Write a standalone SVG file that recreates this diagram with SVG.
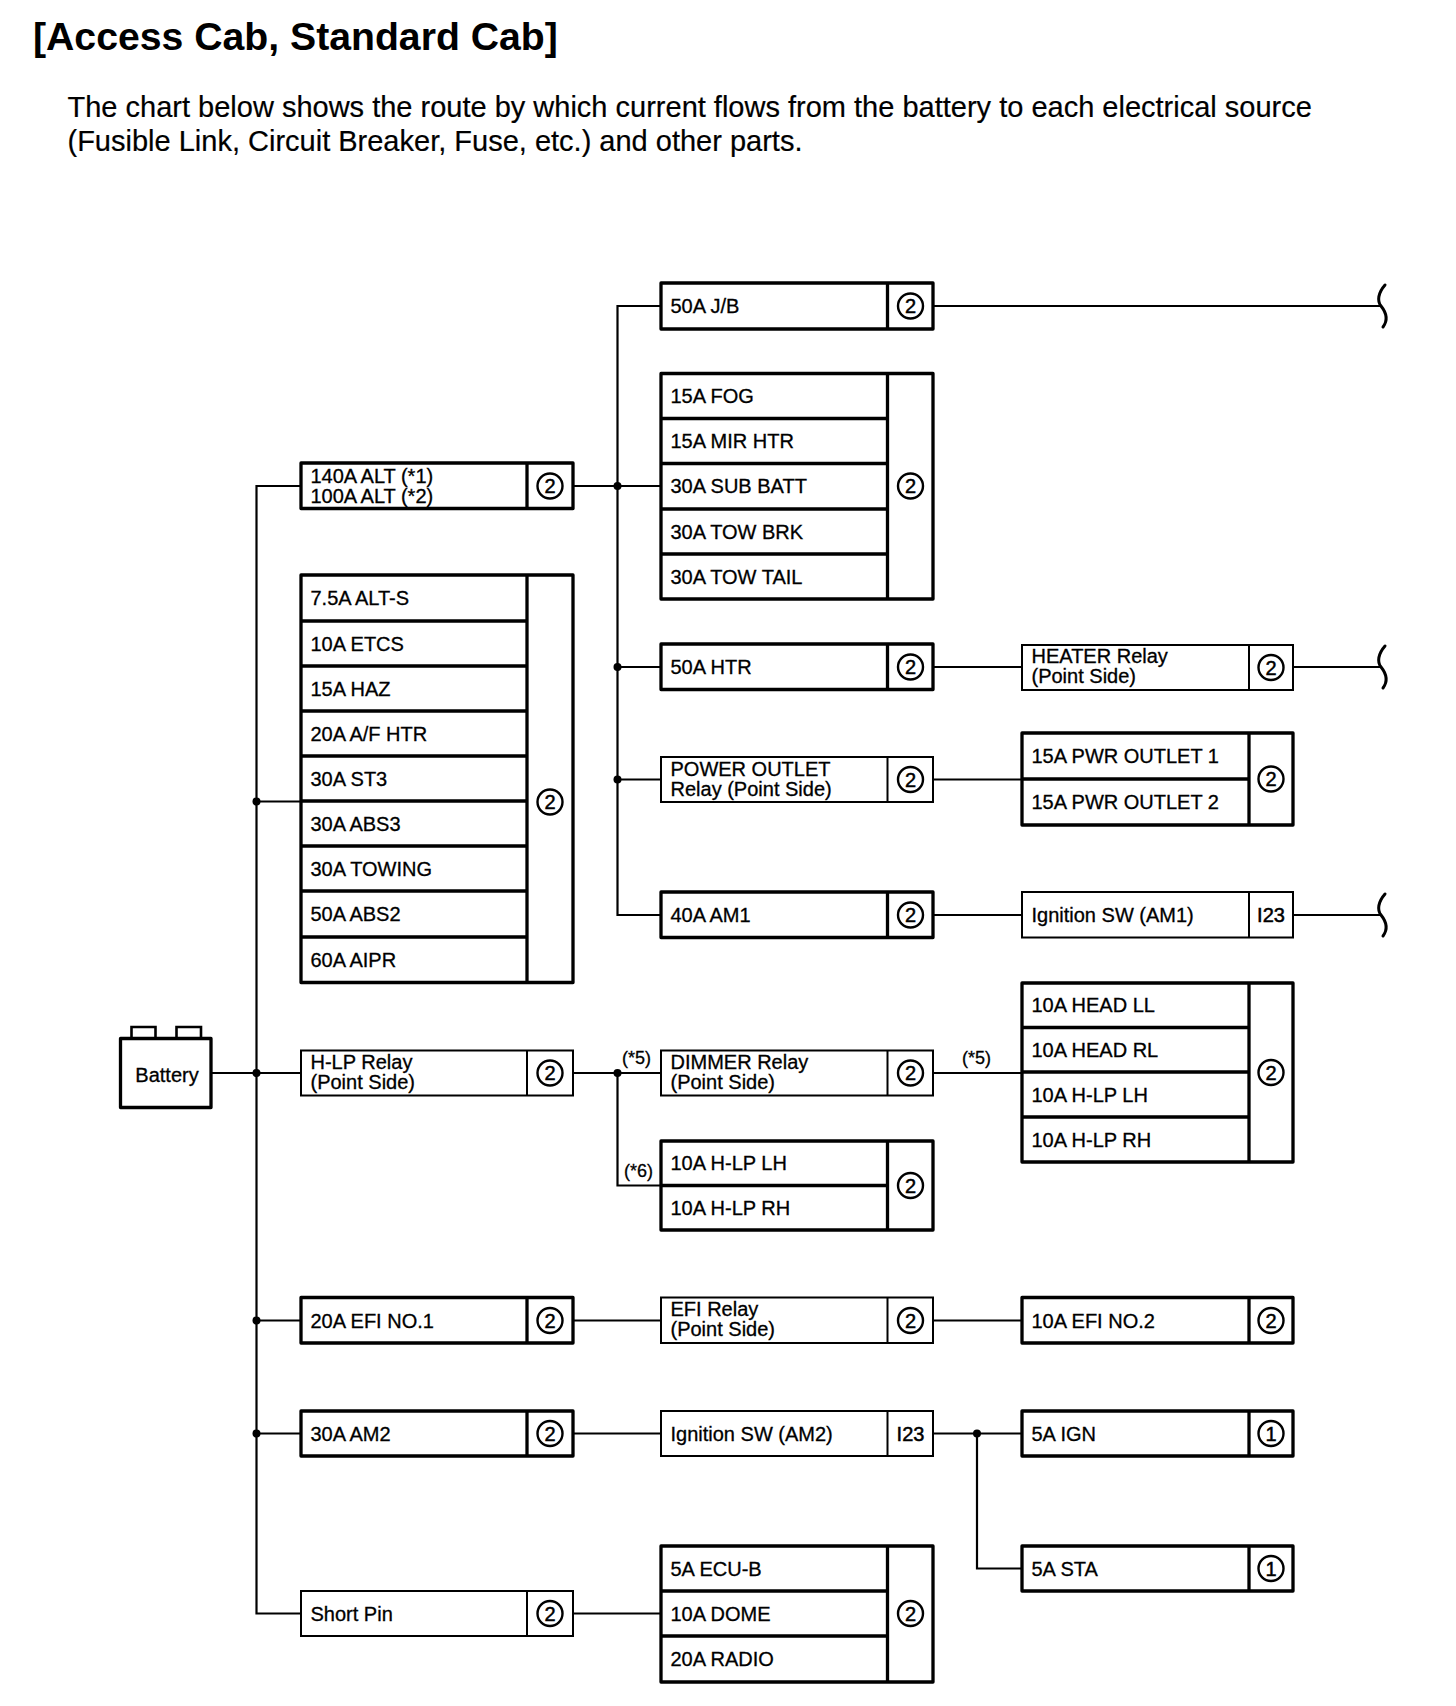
<svg xmlns="http://www.w3.org/2000/svg" width="1456" height="1706" viewBox="0 0 1456 1706">
<style>
 .bx{fill:#fff;stroke:#000;stroke-width:3.3;stroke-linejoin:round}
 .bt{fill:#fff;stroke:#000;stroke-width:2}
 .dv{stroke:#000;stroke-width:3.3}
 .dt{stroke:#000;stroke-width:2}
 .w{fill:none;stroke:#000;stroke-width:2.2}
 .brk{fill:none;stroke:#000;stroke-width:3;stroke-linecap:round}
 .c{fill:none;stroke:#000;stroke-width:2.4}
 .dot{fill:#000}
 text{font-family:"Liberation Sans",Arial,Helvetica,sans-serif;fill:#000}
 .t{font-size:20px;stroke:#000;stroke-width:0.3}
 .n{font-size:20px;text-anchor:middle;stroke:#000;stroke-width:0.5}
 .s{font-size:18px;stroke:#000;stroke-width:0.3}
 .title{font-size:39.2px;font-weight:bold}
 .sub{font-size:29px;stroke:#000;stroke-width:0.2}
</style>

<g id="header">
 <text class="title" x="33" y="50">[Access Cab, Standard Cab]</text>
 <text class="sub" x="67.5" y="117">The chart below shows the route by which current flows from the battery to each electrical source</text>
 <text class="sub" x="67.5" y="151">(Fusible Link, Circuit Breaker, Fuse, etc.) and other parts.</text>
</g>

<g id="connectors">
 <path class="w" d="M301,486 H256.5 V1613.5 H301"/>
 <path class="w" d="M211,1073 H301"/>
 <path class="w" d="M256.5,801.5 H301"/>
 <path class="w" d="M256.5,1320.5 H301"/>
 <path class="w" d="M256.5,1433.5 H301"/>
 <path class="w" d="M661,306 H617.5 V915 H661"/>
 <path class="w" d="M573,486 H661"/>
 <path class="w" d="M617.5,667 H661"/>
 <path class="w" d="M617.5,779.5 H661"/>
 <path class="w" d="M933,306 H1381"/>
 <path class="w" d="M933,667 H1022"/>
 <path class="w" d="M1293,667 H1381"/>
 <path class="w" d="M933,779.5 H1022"/>
 <path class="w" d="M933,915 H1022"/>
 <path class="w" d="M1293,915 H1381"/>
 <path class="w" d="M573,1073 H661"/>
 <path class="w" d="M617.5,1073 V1185.5 H661"/>
 <path class="w" d="M933,1073 H1022"/>
 <path class="w" d="M573,1320.5 H661"/>
 <path class="w" d="M933,1320.5 H1022"/>
 <path class="w" d="M573,1433.5 H661"/>
 <path class="w" d="M933,1433.5 H1022"/>
 <path class="w" d="M977,1433.5 V1568.5 H1022"/>
 <path class="w" d="M573,1613.5 H661"/>
 <path class="brk" d="M1385,285 C1378,293 1377,301 1381,306 C1385,311 1389,319 1383,327"/>
 <path class="brk" d="M1385,646 C1378,654 1377,662 1381,667 C1385,672 1389,680 1383,688"/>
 <path class="brk" d="M1385,894 C1378,902 1377,910 1381,915 C1385,920 1389,928 1383,936"/>
 <circle class="dot" cx="256.5" cy="801.5" r="4"/>
 <circle class="dot" cx="256.5" cy="1073" r="4"/>
 <circle class="dot" cx="256.5" cy="1320.5" r="4"/>
 <circle class="dot" cx="256.5" cy="1433.5" r="4"/>
 <circle class="dot" cx="617.5" cy="486" r="4"/>
 <circle class="dot" cx="617.5" cy="667" r="4"/>
 <circle class="dot" cx="617.5" cy="779.5" r="4"/>
 <circle class="dot" cx="617.5" cy="1073" r="4"/>
 <circle class="dot" cx="977" cy="1433.5" r="4"/>
 <text class="s" x="622" y="1064">(*5)</text>
 <text class="s" x="962" y="1064">(*5)</text>
 <text class="s" x="624" y="1177">(*6)</text>
</g>

<g id="battery">
 <path d="M131.5,1038 V1027 H155.5 V1038 M176.5,1038 V1027 H201 V1038" fill="none" stroke="#000" stroke-width="2.6"/>
 <rect class="bx" x="120.5" y="1038.5" width="90.5" height="69"/>
 <text class="t" x="167" y="1082" text-anchor="middle">Battery</text>
</g>

<g id="n-alt">
 <rect class="bx" x="301" y="463" width="272" height="45.5"/>
 <line class="dv" x1="527" y1="463" x2="527" y2="508.5"/>
 <text class="t" x="310.5" y="483">140A ALT (*1)</text>
 <text class="t" x="310.5" y="503">100A ALT (*2)</text>
 <circle class="c" cx="550" cy="486" r="12.5"/><text class="n" x="550" y="493">2</text>
</g>

<g id="n-fuse-group1">
 <rect class="bx" x="301" y="575" width="272" height="407.5"/>
 <line class="dv" x1="527" y1="575" x2="527" y2="982.5"/>
 <path class="dv" d="M301,621 H527 M301,666 H527 M301,711 H527 M301,756 H527 M301,801 H527 M301,846 H527 M301,891 H527 M301,937 H527"/>
 <text class="t" x="310.5" y="605">7.5A ALT-S</text>
 <text class="t" x="310.5" y="650.5">10A ETCS</text>
 <text class="t" x="310.5" y="695.5">15A HAZ</text>
 <text class="t" x="310.5" y="740.5">20A A/F HTR</text>
 <text class="t" x="310.5" y="785.5">30A ST3</text>
 <text class="t" x="310.5" y="830.5">30A ABS3</text>
 <text class="t" x="310.5" y="875.5">30A TOWING</text>
 <text class="t" x="310.5" y="921">50A ABS2</text>
 <text class="t" x="310.5" y="966.5">60A AIPR</text>
 <circle class="c" cx="550" cy="802" r="12.5"/><text class="n" x="550" y="809">2</text>
</g>

<g id="n-jb">
 <rect class="bx" x="661" y="283" width="272" height="46"/>
 <line class="dv" x1="887.5" y1="283" x2="887.5" y2="329"/>
 <text class="t" x="670.5" y="313">50A J/B</text>
 <circle class="c" cx="910.5" cy="306" r="12.5"/><text class="n" x="910.5" y="313">2</text>
</g>

<g id="n-fuse-group2">
 <rect class="bx" x="661" y="373.5" width="272" height="225.5"/>
 <line class="dv" x1="887.5" y1="373.5" x2="887.5" y2="599"/>
 <path class="dv" d="M661,418.5 H887.5 M661,463.5 H887.5 M661,509 H887.5 M661,554 H887.5"/>
 <text class="t" x="670.5" y="403">15A FOG</text>
 <text class="t" x="670.5" y="448">15A MIR HTR</text>
 <text class="t" x="670.5" y="493">30A SUB BATT</text>
 <text class="t" x="670.5" y="538.5">30A TOW BRK</text>
 <text class="t" x="670.5" y="583.5">30A TOW TAIL</text>
 <circle class="c" cx="910.5" cy="486" r="12.5"/><text class="n" x="910.5" y="493">2</text>
</g>

<g id="n-htr">
 <rect class="bx" x="661" y="644" width="272" height="45.5"/>
 <line class="dv" x1="887.5" y1="644" x2="887.5" y2="689.5"/>
 <text class="t" x="670.5" y="674">50A HTR</text>
 <circle class="c" cx="910.5" cy="667" r="12.5"/><text class="n" x="910.5" y="674">2</text>
</g>

<g id="n-power-outlet-relay">
 <rect class="bt" x="661" y="757" width="272" height="45"/>
 <line class="dt" x1="887.5" y1="757" x2="887.5" y2="802"/>
 <text class="t" x="670.5" y="775.5">POWER OUTLET</text>
 <text class="t" x="670.5" y="795.5">Relay (Point Side)</text>
 <circle class="c" cx="910.5" cy="779.5" r="12.5"/><text class="n" x="910.5" y="786.5">2</text>
</g>

<g id="n-am1">
 <rect class="bx" x="661" y="892" width="272" height="45.5"/>
 <line class="dv" x1="887.5" y1="892" x2="887.5" y2="937.5"/>
 <text class="t" x="670.5" y="922">40A AM1</text>
 <circle class="c" cx="910.5" cy="915" r="12.5"/><text class="n" x="910.5" y="922">2</text>
</g>

<g id="n-heater-relay">
 <rect class="bt" x="1022" y="645" width="271" height="45"/>
 <line class="dt" x1="1249" y1="645" x2="1249" y2="690"/>
 <text class="t" x="1031.5" y="663">HEATER Relay</text>
 <text class="t" x="1031.5" y="683">(Point Side)</text>
 <circle class="c" cx="1271" cy="667.5" r="12.5"/><text class="n" x="1271" y="674.5">2</text>
</g>

<g id="n-pwr-outlet">
 <rect class="bx" x="1022" y="733" width="271" height="92"/>
 <line class="dv" x1="1249" y1="733" x2="1249" y2="825"/>
 <line class="dv" x1="1022" y1="779" x2="1249" y2="779"/>
 <text class="t" x="1031.5" y="763">15A PWR OUTLET 1</text>
 <text class="t" x="1031.5" y="809">15A PWR OUTLET 2</text>
 <circle class="c" cx="1271" cy="779" r="12.5"/><text class="n" x="1271" y="786">2</text>
</g>

<g id="n-ign-am1">
 <rect class="bt" x="1022" y="892" width="271" height="45.5"/>
 <line class="dt" x1="1249" y1="892" x2="1249" y2="937.5"/>
 <text class="t" x="1031.5" y="922">Ignition SW (AM1)</text>
 <text class="n" x="1271" y="922">I23</text>
</g>

<g id="n-head">
 <rect class="bx" x="1022" y="983" width="271" height="179"/>
 <line class="dv" x1="1249" y1="983" x2="1249" y2="1162"/>
 <path class="dv" d="M1022,1027.5 H1249 M1022,1072 H1249 M1022,1117 H1249"/>
 <text class="t" x="1031.5" y="1012">10A HEAD LL</text>
 <text class="t" x="1031.5" y="1057">10A HEAD RL</text>
 <text class="t" x="1031.5" y="1101.5">10A H-LP LH</text>
 <text class="t" x="1031.5" y="1146.5">10A H-LP RH</text>
 <circle class="c" cx="1271" cy="1072.5" r="12.5"/><text class="n" x="1271" y="1079.5">2</text>
</g>

<g id="n-hlp-relay">
 <rect class="bt" x="301" y="1050.5" width="272" height="45"/>
 <line class="dt" x1="527" y1="1050.5" x2="527" y2="1095.5"/>
 <text class="t" x="310.5" y="1068.5">H-LP Relay</text>
 <text class="t" x="310.5" y="1088.5">(Point Side)</text>
 <circle class="c" cx="550" cy="1073" r="12.5"/><text class="n" x="550" y="1080">2</text>
</g>

<g id="n-dimmer-relay">
 <rect class="bt" x="661" y="1050.5" width="272" height="45"/>
 <line class="dt" x1="887.5" y1="1050.5" x2="887.5" y2="1095.5"/>
 <text class="t" x="670.5" y="1068.5">DIMMER Relay</text>
 <text class="t" x="670.5" y="1088.5">(Point Side)</text>
 <circle class="c" cx="910.5" cy="1073" r="12.5"/><text class="n" x="910.5" y="1080">2</text>
</g>

<g id="n-hlp-fuses">
 <rect class="bx" x="661" y="1141" width="272" height="89"/>
 <line class="dv" x1="887.5" y1="1141" x2="887.5" y2="1230"/>
 <line class="dv" x1="661" y1="1185.5" x2="887.5" y2="1185.5"/>
 <text class="t" x="670.5" y="1170">10A H-LP LH</text>
 <text class="t" x="670.5" y="1215">10A H-LP RH</text>
 <circle class="c" cx="910.5" cy="1185.5" r="12.5"/><text class="n" x="910.5" y="1192.5">2</text>
</g>

<g id="n-efi1">
 <rect class="bx" x="301" y="1297.5" width="272" height="45.5"/>
 <line class="dv" x1="527" y1="1297.5" x2="527" y2="1343"/>
 <text class="t" x="310.5" y="1327.5">20A EFI NO.1</text>
 <circle class="c" cx="550" cy="1320.5" r="12.5"/><text class="n" x="550" y="1327.5">2</text>
</g>

<g id="n-efi-relay">
 <rect class="bt" x="661" y="1297.5" width="272" height="45.5"/>
 <line class="dt" x1="887.5" y1="1297.5" x2="887.5" y2="1343"/>
 <text class="t" x="670.5" y="1316">EFI Relay</text>
 <text class="t" x="670.5" y="1336">(Point Side)</text>
 <circle class="c" cx="910.5" cy="1320.5" r="12.5"/><text class="n" x="910.5" y="1327.5">2</text>
</g>

<g id="n-efi2">
 <rect class="bx" x="1022" y="1297.5" width="271" height="45.5"/>
 <line class="dv" x1="1249" y1="1297.5" x2="1249" y2="1343"/>
 <text class="t" x="1031.5" y="1327.5">10A EFI NO.2</text>
 <circle class="c" cx="1271" cy="1320.5" r="12.5"/><text class="n" x="1271" y="1327.5">2</text>
</g>

<g id="n-am2">
 <rect class="bx" x="301" y="1411" width="272" height="45"/>
 <line class="dv" x1="527" y1="1411" x2="527" y2="1456"/>
 <text class="t" x="310.5" y="1440.5">30A AM2</text>
 <circle class="c" cx="550" cy="1433.5" r="12.5"/><text class="n" x="550" y="1440.5">2</text>
</g>

<g id="n-ign-am2">
 <rect class="bt" x="661" y="1411" width="272" height="45"/>
 <line class="dt" x1="887.5" y1="1411" x2="887.5" y2="1456"/>
 <text class="t" x="670.5" y="1440.5">Ignition SW (AM2)</text>
 <text class="n" x="910.5" y="1440.5">I23</text>
</g>

<g id="n-ign">
 <rect class="bx" x="1022" y="1411" width="271" height="45"/>
 <line class="dv" x1="1249" y1="1411" x2="1249" y2="1456"/>
 <text class="t" x="1031.5" y="1440.5">5A IGN</text>
 <circle class="c" cx="1271" cy="1433.5" r="12.5"/><text class="n" x="1271" y="1440.5">1</text>
</g>

<g id="n-sta">
 <rect class="bx" x="1022" y="1546" width="271" height="45"/>
 <line class="dv" x1="1249" y1="1546" x2="1249" y2="1591"/>
 <text class="t" x="1031.5" y="1575.5">5A STA</text>
 <circle class="c" cx="1271" cy="1568.5" r="12.5"/><text class="n" x="1271" y="1575.5">1</text>
</g>

<g id="n-short-pin">
 <rect class="bt" x="301" y="1591" width="272" height="45"/>
 <line class="dt" x1="527" y1="1591" x2="527" y2="1636"/>
 <text class="t" x="310.5" y="1620.5">Short Pin</text>
 <circle class="c" cx="550" cy="1613.5" r="12.5"/><text class="n" x="550" y="1620.5">2</text>
</g>

<g id="n-fuse-group3">
 <rect class="bx" x="661" y="1546" width="272" height="136"/>
 <line class="dv" x1="887.5" y1="1546" x2="887.5" y2="1682"/>
 <path class="dv" d="M661,1591 H887.5 M661,1636 H887.5"/>
 <text class="t" x="670.5" y="1575.5">5A ECU-B</text>
 <text class="t" x="670.5" y="1620.5">10A DOME</text>
 <text class="t" x="670.5" y="1666">20A RADIO</text>
 <circle class="c" cx="910.5" cy="1613.5" r="12.5"/><text class="n" x="910.5" y="1620.5">2</text>
</g>
</svg>
